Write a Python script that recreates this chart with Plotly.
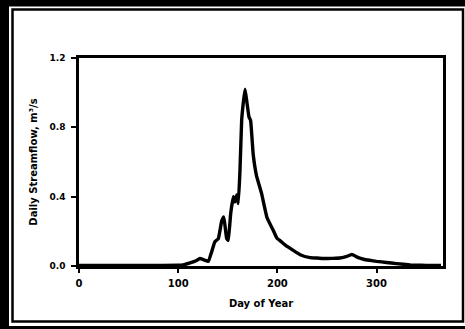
import plotly.graph_objects as go

day_of_year = [0, 20, 50, 80, 100, 106, 112, 118, 122, 126, 130.5, 133.7, 137, 140.5, 143.9, 146,
               148.9, 150.5, 152.9, 155.6, 157.2, 159, 160.6, 162.3, 164, 165.6, 167.4, 169, 171.4,
               173, 175.7, 179, 184, 189.5, 195.8, 199.6, 203, 208, 216, 223, 233, 240, 246.5, 255,
               263, 270, 275, 281, 287, 293, 300, 310, 320, 334, 345, 355, 365]
streamflow = [0.003, 0.003, 0.003, 0.003, 0.004, 0.008, 0.018, 0.03, 0.043, 0.035, 0.027, 0.081,
              0.14, 0.158, 0.26, 0.283, 0.158, 0.148, 0.30, 0.40, 0.37, 0.41, 0.36, 0.55, 0.84,
              0.94, 1.02, 0.956, 0.86, 0.84, 0.64, 0.52, 0.42, 0.28, 0.206, 0.16, 0.145, 0.12,
              0.09, 0.065, 0.048, 0.046, 0.043, 0.044, 0.046, 0.055, 0.067, 0.05, 0.039, 0.033,
              0.027, 0.02, 0.014, 0.006, 0.004, 0.003, 0.003]

x_ticks = [0, 100, 200, 300]
y_ticks = [0.0, 0.4, 0.8, 1.2]
y_tick_labels = ["0.0", "0.4", "0.8", "1.2"]

fig = go.Figure()
fig.add_trace(go.Scatter(x=day_of_year, y=streamflow, mode="lines",
                         line=dict(color="black", width=3.4, shape="spline", smoothing=0.3),
                         showlegend=False, hoverinfo="skip"))

L, R, T, B = 79, 22, 58, 63
W, H = 465, 329
pw, ph = W - L - R, H - T - B

def px(p):
    return (p - L) / pw

def py(p):
    return (H - B - p) / ph

shapes = [
    dict(type="rect", xref="paper", yref="paper", x0=px(9), x1=px(470), y0=py(326), y1=py(6.5),
         fillcolor="white", line=dict(width=0), layer="below"),
    dict(type="rect", xref="paper", yref="paper", x0=px(12.5), x1=px(463), y0=py(321.5), y1=py(9.5),
         fillcolor="rgba(0,0,0,0)", line=dict(color="black", width=2.5), layer="above"),
]

font_fam = "DejaVu Sans"
fig.update_layout(
    width=W, height=H,
    margin=dict(l=L, r=R, t=T, b=B),
    paper_bgcolor="black", plot_bgcolor="white",
    shapes=shapes,
    xaxis=dict(range=[0, 367], tickvals=x_ticks, ticks="outside", ticklen=4, tickwidth=2,
               tickcolor="black", showline=True, linecolor="black", linewidth=2.5, mirror=True,
               showgrid=False, zeroline=False, ticklabelstandoff=2,
               tickfont=dict(family=font_fam, size=10, color="black", weight="bold"),
               title=dict(text="Day of Year", standoff=13,
                          font=dict(family=font_fam, size=10, color="black", weight="bold"))),
    yaxis=dict(range=[0, 1.2], tickvals=y_ticks, ticktext=y_tick_labels, ticks="outside",
               ticklen=5, tickwidth=2, tickcolor="black", showline=True, linecolor="black",
               linewidth=2.5, mirror=True, showgrid=False, zeroline=False, ticklabelstandoff=4,
               tickfont=dict(family=font_fam, size=9, color="black", weight="bold"),
               title=dict(text="Daily Streamflow, m³/s", standoff=10,
                          font=dict(family=font_fam, size=10, color="black", weight="bold"))),
)

fig.write_html("out.html", config={"displayModeBar": False},
               post_script="document.body.style.margin='0';document.body.style.overflow='hidden';")
